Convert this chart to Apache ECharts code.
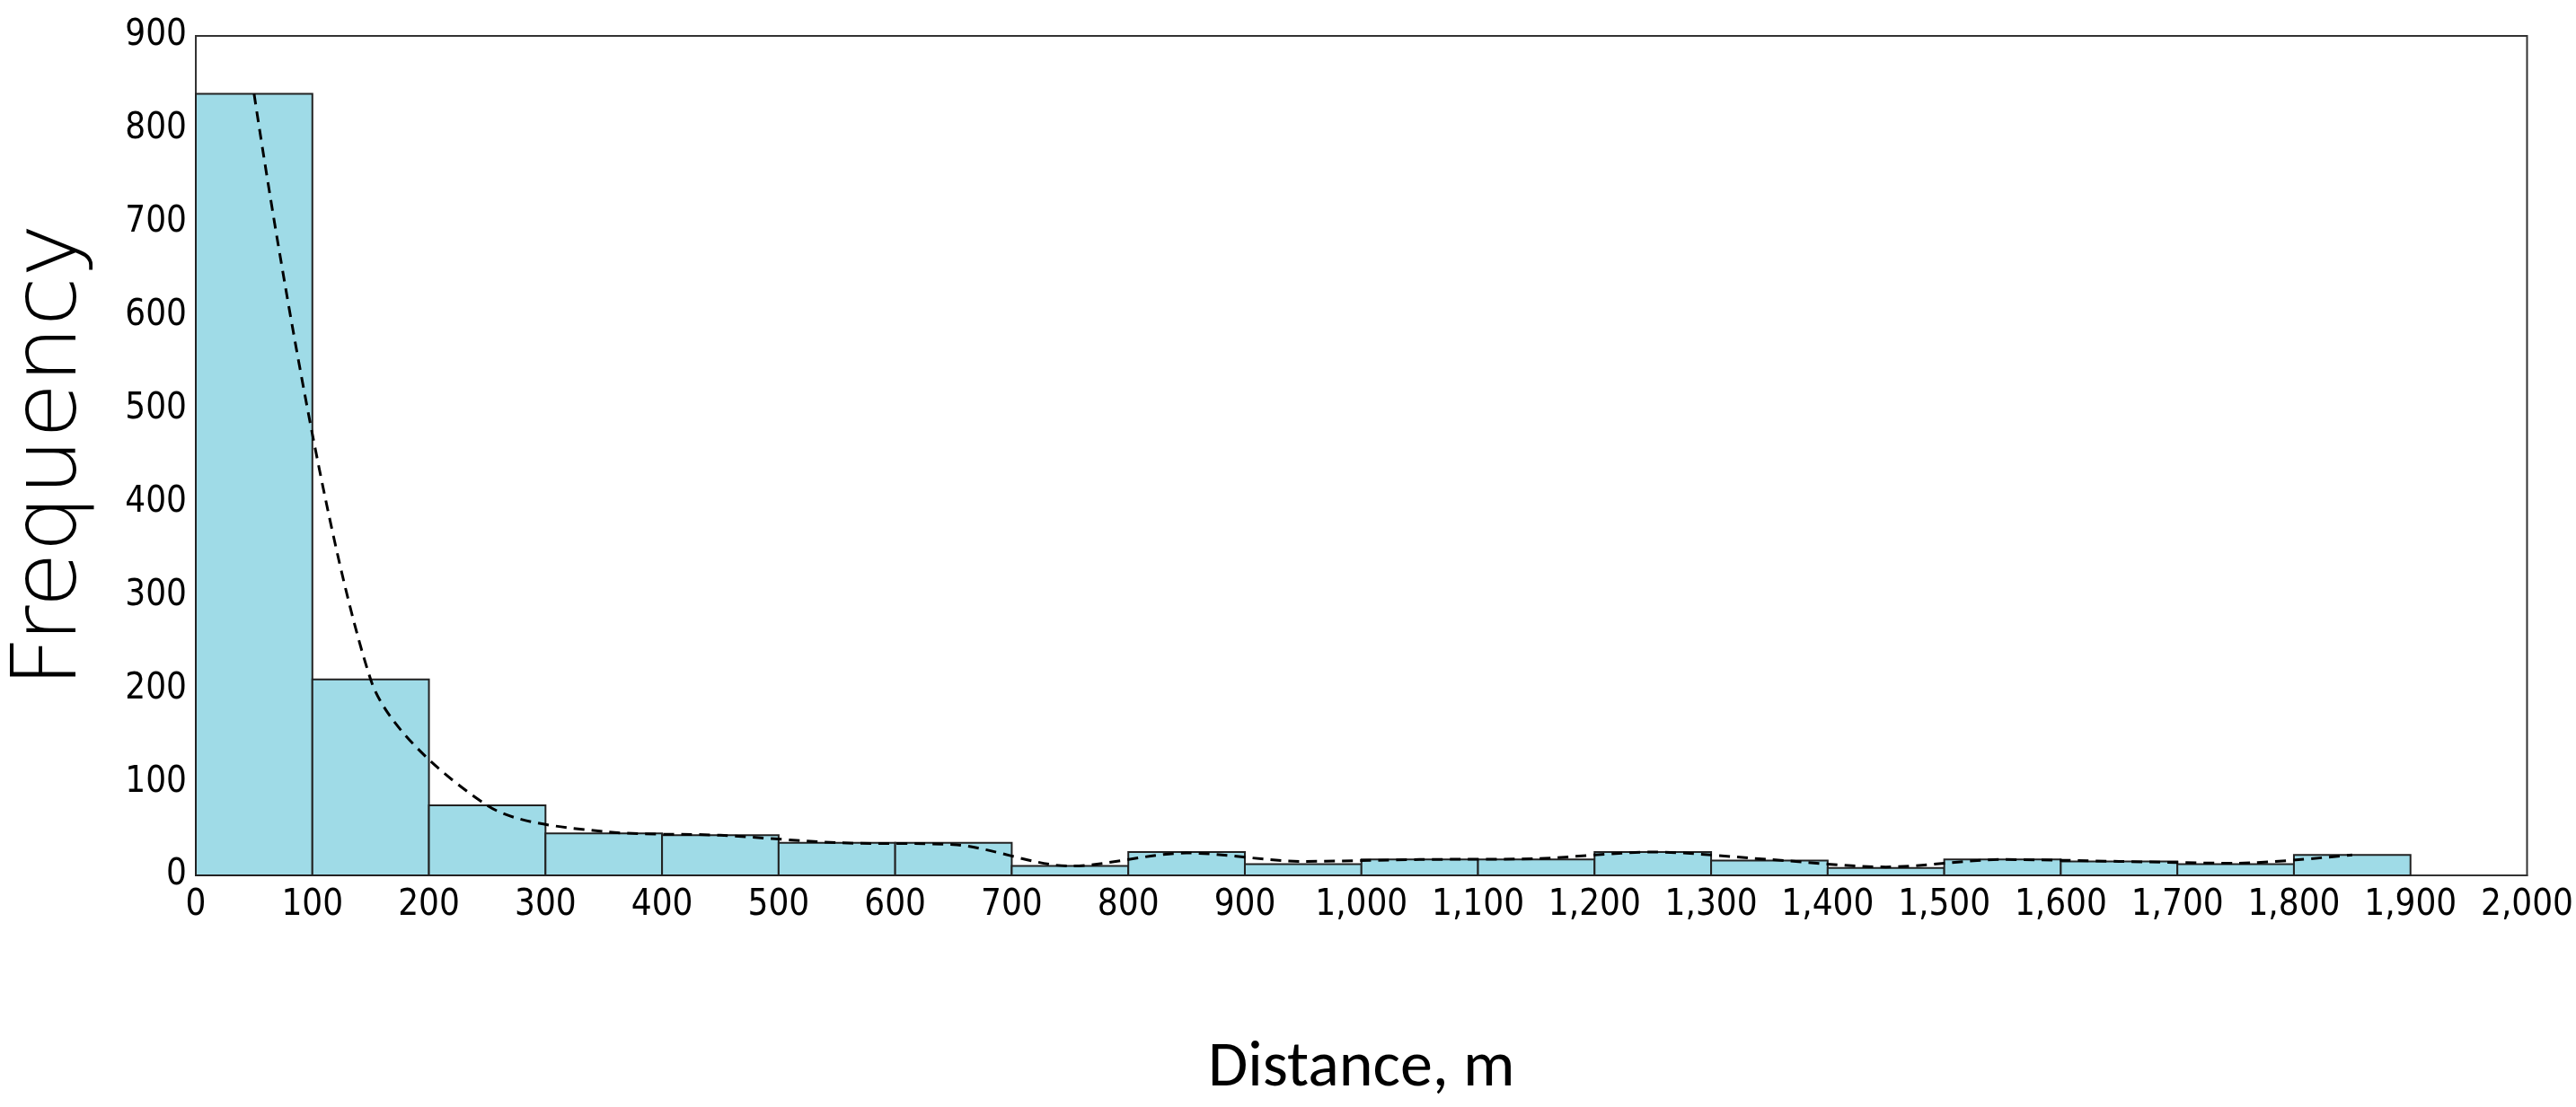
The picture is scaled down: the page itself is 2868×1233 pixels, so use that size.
<!DOCTYPE html>
<html>
<head>
<meta charset="utf-8">
<script src="https://cdn.jsdelivr.net/npm/echarts@6/dist/echarts.min.js"></script>
<style>html,body{margin:0;padding:0;background:#fff}#main{width:2868px;height:1233px}</style>
</head>
<body>
<div id="main"></div>
<script>
// bin edges (m) and counts
var binStarts = [0, 100, 200, 300, 400, 500, 600, 700, 800, 900, 1000, 1100, 1200, 1300, 1400, 1500, 1600, 1700, 1800];
var binWidth = 100;
var counts = [838, 210, 75, 45, 43, 35, 35, 10, 25, 12, 17, 17, 25, 16, 8, 17, 15, 12, 22];
// dashed fit curve, sampled at bin centres
var curveX = [50, 150, 250, 350, 450, 550, 650, 750, 850, 950, 1050, 1150, 1250, 1350, 1450, 1550, 1650, 1750, 1850];
var curveY = [838, 210, 75, 47, 43, 35, 33, 10, 24, 15, 17, 18, 25, 17, 9, 17, 15, 13, 22];

var tickFont = '"Liberation Sans Narrow", "DejaVu Sans Condensed", sans-serif';

var chart = echarts.init(document.getElementById('main'));
chart.setOption({
	animation: false,
	grid: { left: 165, right: 53, top: 40, bottom: 258, show: true, borderColor: '#333', borderWidth: 2, backgroundColor: '#fff' },
	xAxis: {
		type: 'value', min: 0, max: 2000, interval: 100,
		name: 'Distance, m', nameLocation: 'middle', nameGap: 180,
		nameTextStyle: { fontSize: 72, color: '#000', fontFamily: 'Calibri, Carlito, "Open Sans", sans-serif' },
		axisLine: { lineStyle: { color: '#333', width: 2 } },
		axisTick: { inside: true, length: 10, lineStyle: { color: '#333' } },
		axisLabel: { fontSize: 40, color: '#000', fontFamily: tickFont, margin: 14 },
		splitLine: { show: false }
	},
	yAxis: {
		type: 'value', min: 0, max: 900, interval: 100,
		name: 'Frequency', nameLocation: 'middle', nameGap: 110, nameRotate: 90,
		nameTextStyle: { fontSize: 100, color: '#000', fontFamily: '"DejaVu Sans", sans-serif', fontWeight: 300 },
		axisLine: { show: true, lineStyle: { color: '#333', width: 2 } },
		axisTick: { inside: true, length: 10, lineStyle: { color: '#333' } },
		axisLabel: { fontSize: 40, color: '#000', fontFamily: tickFont, margin: 10 },
		splitLine: { show: false }
	},
	series: [
		{
			type: 'custom',
			data: binStarts.map(function (s, i) { return [s, s + binWidth, counts[i]]; }),
			encode: { x: [0, 1], y: 2 },
			renderItem: function (params, api) {
				var p0 = api.coord([api.value(0), api.value(2)]);
				var p1 = api.coord([api.value(1), 0]);
				return {
					type: 'rect',
					shape: { x: p0[0], y: p0[1], width: p1[0] - p0[0], height: p1[1] - p0[1] },
					style: { fill: '#9fdbe7', stroke: '#222', lineWidth: 2 }
				};
			}
		},
		{
			type: 'line',
			data: curveX.map(function (x, i) { return [x, curveY[i]]; }),
			smooth: 0.3,
			symbol: 'none',
			lineStyle: { color: '#000', width: 3, type: [12, 8] },
			z: 5
		}
	]
});
</script>
</body>
</html>
